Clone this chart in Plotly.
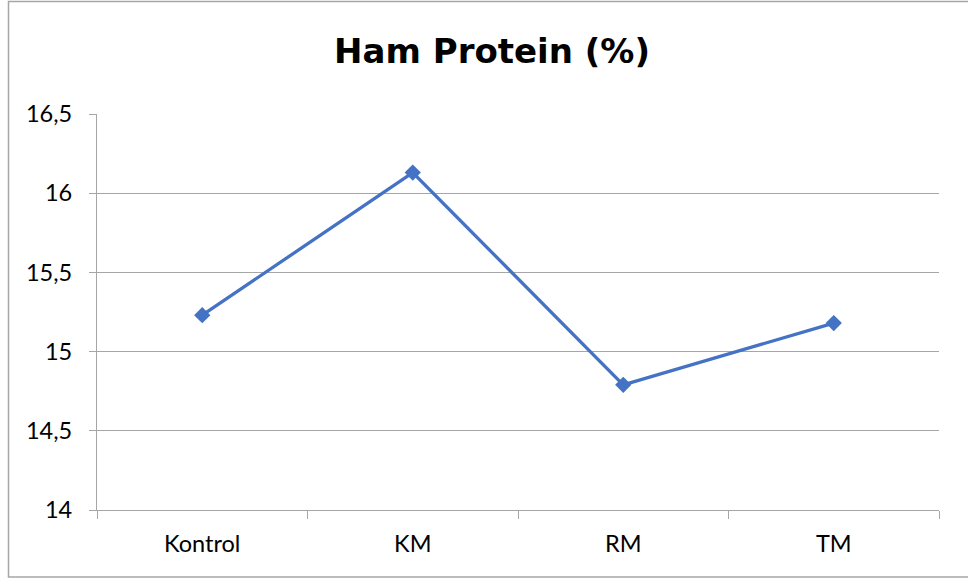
import plotly.graph_objects as go

categories = ["Kontrol", "KM", "RM", "TM"]
values = [15.23, 16.13, 14.79, 15.18]
y_ticks = [14, 14.5, 15, 15.5, 16, 16.5]
y_tick_labels = ["14", "14,5", "15", "15,5", "16", "16,5"]

fig = go.Figure()
fig.add_trace(go.Scatter(
    x=categories, y=values, mode="lines+markers",
    line=dict(color="#4472C4", width=3.3),
    marker=dict(symbol="diamond", size=12.5, color="#4472C4"),
    showlegend=False,
))

W, H = 968, 578
L, R, T, B = 97, 29, 114, 68
pw, ph = W - L - R, H - T - B

fig.update_layout(
    width=W, height=H,
    margin=dict(l=L, r=R, t=T, b=B),
    paper_bgcolor="white", plot_bgcolor="white",
    font=dict(family="Lato, Open Sans, sans-serif", color="#000000", size=23.5),
    title=dict(text="<b>Ham Protein (%)</b>", x=492 / W, xanchor="center",
               y=1 - 51 / H, yanchor="middle",
               font=dict(size=34, family="DejaVu Sans, sans-serif", color="#000000")),
    xaxis=dict(
        type="category", tickson="boundaries", ticks="outside", ticklen=8,
        tickcolor="#a6a6a6", tickwidth=1.3,
        showgrid=False, showline=True, linecolor="#a6a6a6", linewidth=1.3,
        range=[-0.5, 3.5], tickfont=dict(size=23.5), ticklabelstandoff=13,
        fixedrange=True,
    ),
    yaxis=dict(
        range=[14, 16.5], tickvals=y_ticks, ticktext=y_tick_labels,
        ticks="outside", ticklen=7, tickcolor="#a6a6a6", tickwidth=1.3,
        showgrid=True, gridcolor="#a6a6a6", gridwidth=1.3,
        showline=True, linecolor="#a6a6a6", linewidth=1.3,
        zeroline=False, tickfont=dict(size=23.5), ticklabelstandoff=12,
    ),
)

# Outer chart border
fig.add_shape(type="rect", xref="paper", yref="paper",
              x0=(8.5 - L) / pw, x1=(975 - L) / pw,
              y0=-(577 - (T + ph)) / ph, y1=1 + (T - 1.5) / ph,
              line=dict(color="#a6a6a6", width=1.5), layer="below")

fig.write_html("out.html", config={"displayModeBar": False},
               post_script="document.body.style.margin='0px';")
